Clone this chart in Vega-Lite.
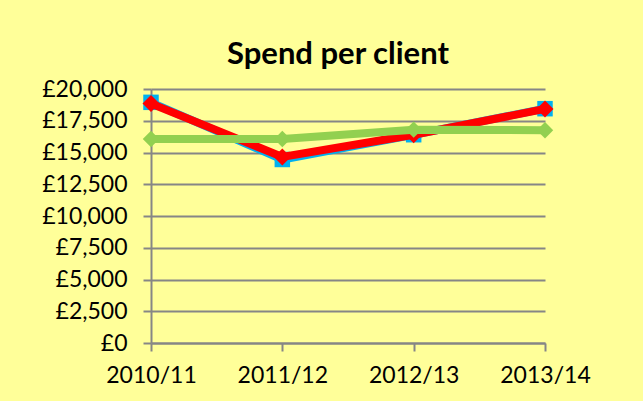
{
  "$schema": "https://vega.github.io/schema/vega-lite/v6.json",
  "width": 394,
  "height": 254,
  "autosize": {"type": "none"},
  "padding": {"left": 151, "top": 89, "right": 98, "bottom": 58},
  "background": "#FFFF99",
  "title": {
    "text": "Spend per client",
    "font": "Lato",
    "fontSize": 31,
    "fontWeight": "bold",
    "color": "#000000",
    "anchor": "middle",
    "frame": "group",
    "baseline": "alphabetic",
    "dx": -10,
    "dy": 32,
    "offset": 15
  },
  "config": {
    "view": {"stroke": null},
    "font": "Lato",
    "axis": {
      "labelFont": "Lato",
      "labelFontSize": 23,
      "labelColor": "#000000",
      "domainColor": "#868686",
      "domainWidth": 2,
      "tickColor": "#868686",
      "tickWidth": 2,
      "tickSize": 8,
      "gridColor": "#868686",
      "gridWidth": 2,
      "title": null
    }
  },
  "data": {
    "values": [
      {"year": "2010/11", "series": "Blue", "value": 18950},
      {"year": "2011/12", "series": "Blue", "value": 14450},
      {"year": "2012/13", "series": "Blue", "value": 16400},
      {"year": "2013/14", "series": "Blue", "value": 18450},
      {"year": "2010/11", "series": "Red", "value": 18850},
      {"year": "2011/12", "series": "Red", "value": 14650},
      {"year": "2012/13", "series": "Red", "value": 16400},
      {"year": "2013/14", "series": "Red", "value": 18430},
      {"year": "2010/11", "series": "Green", "value": 16060},
      {"year": "2011/12", "series": "Green", "value": 16060},
      {"year": "2012/13", "series": "Green", "value": 16800},
      {"year": "2013/14", "series": "Green", "value": 16750}
    ]
  },
  "encoding": {
    "x": {
      "field": "year",
      "type": "ordinal",
      "scale": {"type": "point", "padding": 0},
      "axis": {"labelAngle": 0, "labelPadding": 13, "grid": false, "title": null}
    },
    "y": {
      "field": "value",
      "type": "quantitative",
      "scale": {"domain": [0, 20000], "nice": false, "zero": true},
      "axis": {
        "values": [0, 2500, 5000, 7500, 10000, 12500, 15000, 17500, 20000],
        "labelExpr": "'£' + format(datum.value, ',')",
        "labelPadding": 16,
        "grid": true,
        "title": null
      }
    }
  },
  "layer": [
    {
      "transform": [{"filter": "datum.series === 'Blue'"}],
      "mark": {
        "type": "line",
        "color": "#00B0F0",
        "strokeWidth": 8,
        "point": {"shape": "square", "size": 240, "filled": true, "color": "#00B0F0", "opacity": 1}
      }
    },
    {
      "transform": [{"filter": "datum.series === 'Red'"}],
      "mark": {
        "type": "line",
        "color": "#FF0000",
        "strokeWidth": 8,
        "point": {"shape": "diamond", "size": 290, "filled": true, "color": "#FF0000", "opacity": 1}
      }
    },
    {
      "transform": [{"filter": "datum.series === 'Green'"}],
      "mark": {
        "type": "line",
        "color": "#92D050",
        "strokeWidth": 8,
        "point": {"shape": "diamond", "size": 270, "filled": true, "color": "#92D050", "opacity": 1}
      }
    }
  ]
}
